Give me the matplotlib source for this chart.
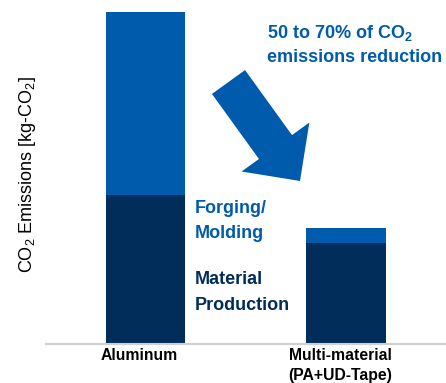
import matplotlib
matplotlib.use('Agg')
import matplotlib.pyplot as plt
import matplotlib.transforms as mtransforms
from matplotlib.patches import FancyArrow

plt.rcParams['font.family'] = ['Liberation Sans', 'DejaVu Sans']
plt.rcParams['mathtext.fontset'] = 'custom'
plt.rcParams['mathtext.rm'] = 'Liberation Sans'
plt.rcParams['mathtext.bf'] = 'Liberation Sans:bold'
plt.rcParams['mathtext.it'] = 'Liberation Sans:italic'

# данные (высоты столбцов, условные единицы)
categories = ['Aluminum', 'Multi-material\n(PA+UD-Tape)']
material = [149, 101]
forging = [183, 15]

NAVY = '#002D59'
BLUE = '#005BAC'

W, H = 446, 383
fig = plt.figure(figsize=(W / 100, H / 100), dpi=100)


# перевод пикселей в доли фигуры
def px(x, y):
    return x / W, 1 - y / H


ax = fig.add_axes([46 / W, (H - 344) / H, 400 / W, 332 / H])
x = range(len(categories))
ax.bar(x, material, width=0.397, color=NAVY)
ax.bar(x, forging, width=0.397, bottom=material, color=BLUE)
ax.set_xlim(-0.496, 1.499)
ax.set_ylim(0, material[0] + forging[0])

for s in ['top', 'right', 'left']:
    ax.spines[s].set_visible(False)
ax.spines['bottom'].set_color('#cfcfcf')
ax.spines['bottom'].set_linewidth(1.5)
ax.set_yticks([])
ax.set_xticks(list(x))
ax.set_xticklabels(categories, fontweight='bold', fontsize=11.3, linespacing=1.4)
ax.tick_params(axis='x', length=0, pad=3)
shift = mtransforms.ScaledTranslation(-6 / 100, 0, fig.dpi_scale_trans)
for lbl in ax.get_xticklabels():
    lbl.set_transform(lbl.get_transform() + shift)

fig.text(*px(28, 174), r'CO$_2$ Emissions [kg-CO$_2$]', rotation=90,
         fontsize=13, ha='center', va='center')

fig.text(*px(195, 208), 'Forging/', color=BLUE, fontsize=13, fontweight='bold', va='center')
fig.text(*px(195, 233), 'Molding', color=BLUE, fontsize=13, fontweight='bold', va='center')
fig.text(*px(195, 280), 'Material', color=NAVY, fontsize=13, fontweight='bold', va='center')
fig.text(*px(195, 306), 'Production', color=NAVY, fontsize=13, fontweight='bold', va='center')

fig.text(*px(267, 33), r'50 to 70% of CO$_\mathbf{2}$', color=BLUE, fontsize=13,
         fontweight='bold', va='center')
fig.text(*px(267, 58), 'emissions reduction', color=BLUE, fontsize=13,
         fontweight='bold', va='center')

# стрелка (в дюймах)
x0, y0 = 228.5 / 100, (H - 82) / 100
x1, y1 = 300 / 100, (H - 181) / 100
arrow = FancyArrow(x0, y0, x1 - x0, y1 - y0, width=0.408, head_width=0.836,
                   head_length=0.419, length_includes_head=True,
                   color=BLUE, transform=fig.dpi_scale_trans, linewidth=0)
fig.add_artist(arrow)

fig.savefig('out.png', dpi=100)
